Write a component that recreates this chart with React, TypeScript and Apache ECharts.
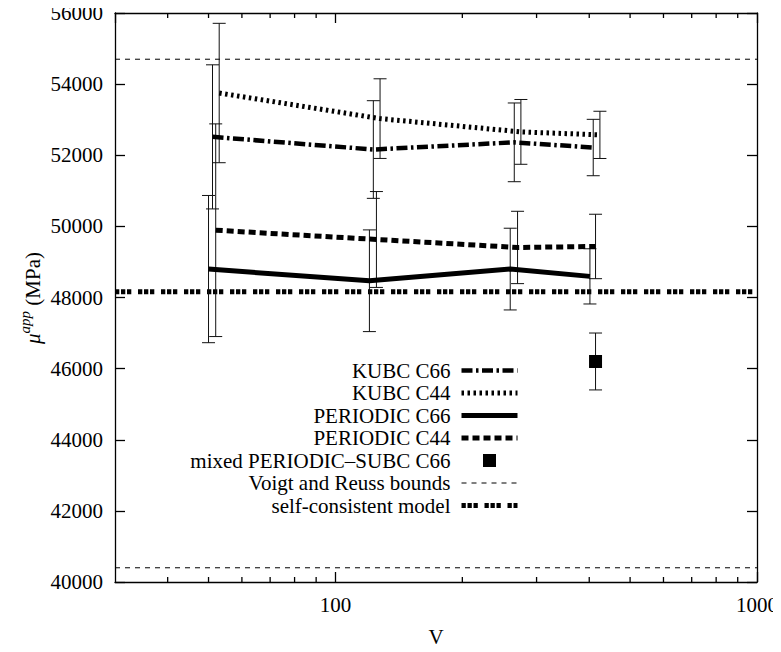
import React, { useEffect, useRef } from 'react';
import * as echarts from 'echarts';

const X_MIN = 30;
const X_MAX = 1000;
const Y_MIN = 40000;
const Y_MAX = 56000;
const Y_STEP = 2000;
const xMajorLabels = [100, 1000];
const xMinorTicks = [40, 50, 60, 70, 80, 90, 200, 300, 400, 500, 600, 700, 800, 900];

const kubcC66V = [51.1, 123, 265.6, 408.8];
const kubcC66Mu = [52517, 52161, 52363, 52217];
const kubcC66Err = [2026, 1373, 1107, 793];

const kubcC44V = [53, 127.6, 275.4, 424];
const kubcC44Mu = [53750, 53030, 52657, 52573];
const kubcC44Err = [1960, 1120, 911, 664];

const perC66V = [50, 120.4, 259.8, 401.5];
const perC66Mu = [48799, 48471, 48799, 48594];
const perC66Err = [2070, 1430, 1149, 776];

const perC44V = [52, 125.1, 270.4, 414];
const perC44Mu = [49892, 49631, 49407, 49435];
const perC44Err = [2990, 1348, 1017, 906];

const mixedV = [414];
const mixedMu = [46201];
const mixedErr = [800];

const voigtBound = 54700;
const reussBound = 40400;
const selfConsistent = 48160;

const FONT = 'Liberation Serif';
const FS = 21;

const zip = (xs: number[], ys: number[]) => xs.map((x, i) => [x, ys[i]]);
const errRows = (xs: number[], ys: number[], es: number[]) => xs.map((x, i) => [x, ys[i], es[i]]);

export default function App() {
  const ref = useRef<HTMLDivElement>(null);
  useEffect(() => {
    if (!ref.current) return;
    const chart = echarts.init(ref.current, undefined, { renderer: 'svg' });
    const lineBase = { type: 'line', symbol: 'none', showSymbol: false, itemStyle: { color: 'rgba(0,0,0,0)' } };
    const errData = [
      ...errRows(kubcC66V, kubcC66Mu, kubcC66Err),
      ...errRows(kubcC44V, kubcC44Mu, kubcC44Err),
      ...errRows(perC66V, perC66Mu, perC66Err),
      ...errRows(perC44V, perC44Mu, perC44Err),
      ...errRows(mixedV, mixedMu, mixedErr),
    ];
    const axisLine = { show: true, lineStyle: { color: '#000', width: 1.3 } };
    const axisTick = { show: true, inside: true, length: 10, lineStyle: { color: '#000', width: 1.3 } };
    const option: any = {
      animation: false,
      backgroundColor: '#fff',
      textStyle: { fontFamily: FONT },
      grid: { left: 115, right: 22, top: 13, bottom: 68 },
      xAxis: [
        {
          type: 'log', logBase: 10, min: X_MIN, max: X_MAX, position: 'bottom',
          name: 'V', nameLocation: 'middle', nameGap: 44,
          nameTextStyle: { fontFamily: FONT, fontSize: FS, color: '#000' },
          axisLine, axisTick,
          axisLabel: {
            fontFamily: FONT, fontSize: FS, color: '#000', margin: 12,
            showMinLabel: false,
            formatter: (v: number) => (xMajorLabels.some((m) => Math.abs(v - m) < 1e-6 * m) ? String(Math.round(v)) : ''),
          },
          splitLine: { show: false },
        },
        {
          type: 'log', logBase: 10, min: X_MIN, max: X_MAX, position: 'top',
          axisLine, axisTick,
          axisLabel: { show: false },
          splitLine: { show: false },
        },
      ],
      yAxis: [
        {
          type: 'value', min: Y_MIN, max: Y_MAX, interval: Y_STEP, position: 'left',
          axisLine, axisTick,
          axisLabel: { fontFamily: FONT, fontSize: FS, color: '#000', margin: 12, formatter: (v: number) => String(v) },
          splitLine: { show: false },
        },
        {
          type: 'value', min: Y_MIN, max: Y_MAX, interval: Y_STEP, position: 'right',
          axisLine, axisTick,
          axisLabel: { show: false },
          splitLine: { show: false },
        },
      ],
      legend: {
        orient: 'vertical', align: 'right', right: 261, top: 360, padding: 0,
        itemWidth: 56, itemHeight: 13, itemGap: 1.5,
        selectedMode: false,
        textStyle: { fontFamily: FONT, fontSize: FS, color: '#000', lineHeight: 20, padding: [0, 6, 0, 0] },
        lineStyle: { width: 'inherit' },
        data: [
          { name: 'KUBC C66' },
          { name: 'KUBC C44' },
          { name: 'PERIODIC C66' },
          { name: 'PERIODIC C44' },
          { name: 'mixed PERIODIC–SUBC C66', icon: 'path://M0,0H10V10H0Z' },
          { name: 'Voigt and Reuss bounds' },
          { name: 'self-consistent model' },
        ],
      },
      graphic: [
        {
          type: 'text', x: 30, y: 298, rotation: Math.PI / 2,
          style: {
            text: '{m|μ}{s|app}{n| (MPa)}',
            align: 'center', verticalAlign: 'middle',
            rich: {
              m: { fontFamily: FONT, fontSize: FS, fontStyle: 'italic', fill: '#000', lineHeight: 26, verticalAlign: 'bottom' },
              s: { fontFamily: FONT, fontSize: 15, fontStyle: 'italic', fill: '#000', lineHeight: 15, verticalAlign: 'top' },
              n: { fontFamily: FONT, fontSize: FS, fill: '#000', lineHeight: 26, verticalAlign: 'bottom' },
            },
          },
        },
      ],
      series: [
        {
          ...lineBase, name: 'Voigt and Reuss bounds', data: [[X_MIN, voigtBound], [X_MAX, voigtBound]],
          lineStyle: { color: '#000', width: 1, type: [5, 5] }, z: 1,
        },
        {
          ...lineBase, name: 'Voigt and Reuss bounds', data: [[X_MIN, reussBound], [X_MAX, reussBound]],
          lineStyle: { color: '#000', width: 1, type: [5, 5] }, z: 1,
        },
        {
          ...lineBase, name: 'self-consistent model', data: [[X_MIN, selfConsistent], [X_MAX, selfConsistent]],
          lineStyle: { color: '#000', width: 5, type: [4.3, 1.7, 4.3, 1.7, 4.3, 6.7] }, z: 1,
        },
        {
          type: 'custom', name: 'errorbars', data: errData, z: 2,
          renderItem: (params: any, api: any) => {
            const x = api.value(0), y = api.value(1), e = api.value(2);
            const top = api.coord([x, y + e]);
            const bot = api.coord([x, y - e]);
            const h = 6.5;
            const st = { stroke: '#111', lineWidth: 1 };
            return {
              type: 'group',
              children: [
                { type: 'line', shape: { x1: top[0], y1: top[1], x2: bot[0], y2: bot[1] }, style: st },
                { type: 'line', shape: { x1: top[0] - h, y1: top[1], x2: top[0] + h, y2: top[1] }, style: st },
                { type: 'line', shape: { x1: bot[0] - h, y1: bot[1], x2: bot[0] + h, y2: bot[1] }, style: st },
              ],
            };
          },
        },
        {
          ...lineBase, name: 'KUBC C66', data: zip(kubcC66V, kubcC66Mu),
          lineStyle: { color: '#000', width: 4.5, type: [11, 3.5, 2.5, 3.5] }, z: 3,
        },
        {
          ...lineBase, name: 'KUBC C44', data: zip(kubcC44V, kubcC44Mu),
          lineStyle: { color: '#000', width: 5, type: [2.5, 3.5] }, z: 3,
        },
        {
          ...lineBase, name: 'PERIODIC C66', data: zip(perC66V, perC66Mu),
          lineStyle: { color: '#000', width: 5 }, z: 3,
        },
        {
          ...lineBase, name: 'PERIODIC C44', data: zip(perC44V, perC44Mu),
          lineStyle: { color: '#000', width: 5, type: [7, 4] }, z: 3,
        },
        {
          type: 'scatter', name: 'mixed PERIODIC–SUBC C66', data: zip(mixedV, mixedMu),
          symbol: 'rect', symbolSize: 13, itemStyle: { color: '#000', opacity: 1 }, z: 4,
        },
        {
          type: 'custom', name: 'minorticks', data: xMinorTicks.map((v) => [v, Y_MIN]), z: 5,
          renderItem: (params: any, api: any) => {
            const v = api.value(0);
            const b = api.coord([v, Y_MIN]);
            const t = api.coord([v, Y_MAX]);
            const st = { stroke: '#000', lineWidth: 1.3 };
            return {
              type: 'group',
              children: [
                { type: 'line', shape: { x1: b[0], y1: b[1], x2: b[0], y2: b[1] - 5 }, style: st },
                { type: 'line', shape: { x1: t[0], y1: t[1], x2: t[0], y2: t[1] + 5 }, style: st },
              ],
            };
          },
        },
      ],
    };
    chart.setOption(option);
    return () => chart.dispose();
  }, []);
  return <div ref={ref} style={{ width: 781, height: 652, margin: -8 }} />;
}
